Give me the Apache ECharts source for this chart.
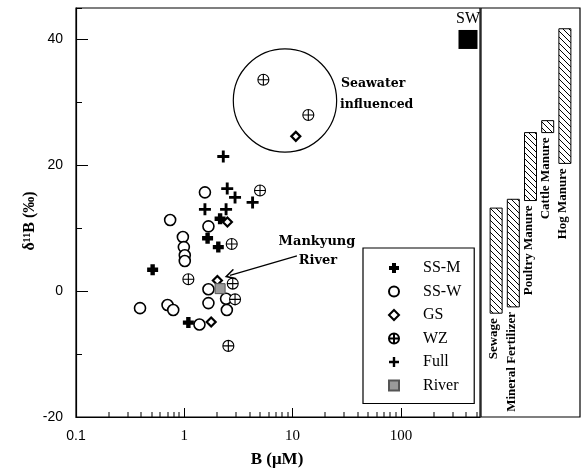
<!DOCTYPE html>
<html>
<head>
<meta charset="utf-8">
<script src="https://cdn.jsdelivr.net/npm/echarts@6/dist/echarts.min.js"></script>
<style>
  html, body { margin: 0; padding: 0; background: #fff; }
  #chart { width: 586px; height: 474px; }
</style>
</head>
<body>
<div id="chart"></div>
<script>
// B (uM), delta 11B (permil)
var ssM = [[2.14, 11.5], [1.64, 8.4], [2.06, 7.0], [0.51, 3.4], [1.09, -5.0]];
var ssW = [[1.55, 15.7], [0.74, 11.3], [1.67, 10.3], [0.97, 8.6], [0.99, 7.0], [1.01, 5.7],
           [1.01, 4.8], [1.67, 0.3], [2.43, -1.2], [1.67, -1.9], [0.70, -2.2], [0.79, -3.0],
           [2.47, -3.0], [0.39, -2.7], [1.38, -5.3]];
var gs = [[10.7, 24.6], [2.5, 11.0], [2.02, 1.7], [1.77, -4.9]];
var wz = [[5.37, 33.6], [13.96, 28.0], [5.0, 16.0], [2.74, 7.5], [1.09, 1.9], [2.80, 1.2],
          [2.94, -1.3], [2.55, -8.7]];
var full = [[2.29, 21.4], [2.49, 16.3], [2.94, 14.9], [4.27, 14.1], [1.55, 13.0], [2.43, 13.0]];
var river = [[2.14, 0.4]];
var seawater = [[416, 40]];

// source ranges of d11B (right panel)
var sourceNames = ['Sewage', 'Mineral Fertilizer', 'Poultry Manure', 'Cattle Manure', 'Hog Manure'];
var sourceLow = [-3.5, -2.5, 14.4, 25.2, 20.3];
var sourceHigh = [13.2, 14.6, 25.2, 27.1, 41.7];

// seawater-influenced circle: centre, and B at its right edge
var swCircle = [[8.5, 30.3, 25.5]];
// arrow to Mankyung River point: from, to
var arrowFrom = [10.96, 5.6];
var arrowTo = [2.64, 2.5];

var xMin = 0.1, xMax = 537;
var yMin = -20, yMax = 45;
var xDecades = [0.1, 1, 10, 100];

var chart = echarts.init(document.getElementById('chart'));

// hatch fill for the source bars
function makeHatch() {
  var c = document.createElement('canvas');
  c.width = 6; c.height = 6;
  var g = c.getContext('2d');
  g.fillStyle = '#fff';
  g.fillRect(0, 0, 6, 6);
  g.strokeStyle = '#000';
  g.lineWidth = 1;
  g.beginPath();
  g.moveTo(-1, -1); g.lineTo(7, 7);
  g.moveTo(-1, 5); g.lineTo(1, 7);
  g.moveTo(5, -1); g.lineTo(7, 1);
  g.stroke();
  return c;
}
var hatch = makeHatch();

// minor ticks of the log axis (2..9 in each decade)
var minorTicks = [];
xDecades.forEach(function (d) {
  for (var m = 2; m <= 9; m++) {
    if (m * d < xMax) minorTicks.push([m * d, yMin]);
  }
});

var symSSM = 'path://M3,0H7V3H10V7H7V10H3V7H0V3H3Z';
var symFull = 'path://M3.8,0H6.2V3.8H10V6.2H6.2V10H3.8V6.2H0V3.8H3.8Z';
var symWZ = 'path://M0,5A5,5,0,1,1,10,5A5,5,0,1,1,0,5ZM5,0L5,10M0,5L10,5';
var symArrow = 'path://M0,9L5,0L10,9L9,10L5,3L1,10Z';

var serif = '"Liberation Serif", "Times New Roman", serif';

chart.setOption({
  animation: false,
  backgroundColor: '#fff',
  grid: [
    { left: 76, right: 106, top: 8, bottom: 57, show: true, borderColor: '#000', borderWidth: 1.2 },
    { left: 481, right: 6, top: 8, bottom: 57, show: true, borderColor: '#000', borderWidth: 1.2 }
  ],
  xAxis: [
    {
      type: 'log', logBase: 10, gridIndex: 0, min: xMin, max: xMax,
      axisLine: { onZero: false, lineStyle: { color: '#000', width: 1.2 } },
      axisTick: { inside: true, length: 9, lineStyle: { color: '#000' } },
      splitLine: { show: false },
      axisLabel: {
        margin: 12, showMaxLabel: false, color: '#000',
        formatter: function (v) {
          return v < 1 ? '{s|0.1}' : '{r|' + Math.round(v) + '}';
        },
        rich: {
          s: { fontFamily: '"Liberation Sans", Arial, sans-serif', fontSize: 14, color: '#000' },
          r: { fontFamily: serif, fontSize: 15, color: '#000' }
        }
      }
    },
    { type: 'value', gridIndex: 1, min: 0.12, max: 5.88, show: false }
  ],
  yAxis: [
    {
      type: 'value', gridIndex: 0, min: yMin, max: yMax, interval: 20,
      axisLine: { show: true, onZero: false, lineStyle: { color: '#000', width: 1.2 } },
      axisTick: { inside: true, length: 12, lineStyle: { color: '#000' } },
      splitLine: { show: false },
      axisLabel: {
        margin: 13, showMaxLabel: false, color: '#000',
        fontFamily: '"Liberation Sans", Arial, sans-serif', fontSize: 14
      }
    },
    {
      type: 'value', gridIndex: 0, min: yMin, max: yMax, interval: 10, position: 'left',
      axisLine: { show: false, onZero: false },
      axisTick: { inside: true, length: 6, lineStyle: { color: '#000' } },
      splitLine: { show: false },
      axisLabel: { show: false }
    },
    { type: 'value', gridIndex: 1, min: yMin, max: yMax, show: false }
  ],
  legend: {
    orient: 'vertical', left: 363, top: 248,
    padding: [12, 13, 10, 25],
    itemWidth: 10, itemHeight: 10, itemGap: 7.5,
    selectedMode: false,
    backgroundColor: '#fff', borderColor: '#000', borderWidth: 1.2, borderRadius: 0,
    textStyle: { fontFamily: serif, fontSize: 16, color: '#000', padding: [0, 0, 0, 19] },
    data: ['SS-M', 'SS-W', 'GS', 'WZ', 'Full', 'River'],
    z: 10
  },
  graphic: [
    { type: 'text', x: 341, y: 84, style: { text: 'Seawater', font: 'bold 12.5px "DejaVu Serif", serif', fill: '#000', verticalAlign: 'middle' } },
    { type: 'text', x: 340, y: 105, style: { text: 'influenced', font: 'bold 12.5px "DejaVu Serif", serif', fill: '#000', verticalAlign: 'middle' } },
    { type: 'text', x: 317, y: 242, style: { text: 'Mankyung', font: 'bold 13px "DejaVu Serif", serif', fill: '#000', align: 'center', verticalAlign: 'middle' } },
    { type: 'text', x: 318, y: 261, style: { text: 'River', font: 'bold 13px "DejaVu Serif", serif', fill: '#000', align: 'center', verticalAlign: 'middle' } },
    { type: 'text', x: 277, y: 460, style: { text: 'B (\u03bcM)', font: 'bold 17px ' + serif, fill: '#000', align: 'center', verticalAlign: 'middle' } },
    { type: 'text', x: 30, y: 221, rotation: Math.PI / 2, style: { text: '\u03b4\u00b9\u00b9B (\u2030)', font: 'bold 16px ' + serif, fill: '#000', align: 'center', verticalAlign: 'middle' } }
  ],
  series: [
    {
      name: 'SS-M', type: 'scatter', xAxisIndex: 0, yAxisIndex: 0, data: ssM,
      symbol: symSSM, symbolSize: 11,
      itemStyle: { color: '#000', opacity: 1 }
    },
    {
      name: 'SS-W', type: 'scatter', xAxisIndex: 0, yAxisIndex: 0, data: ssW,
      symbol: 'circle', symbolSize: 11,
      itemStyle: { color: '#fff', borderColor: '#000', borderWidth: 1.6, opacity: 1 }
    },
    {
      name: 'GS', type: 'scatter', xAxisIndex: 0, yAxisIndex: 0, data: gs,
      symbol: 'diamond', symbolSize: 9,
      itemStyle: { color: '#fff', borderColor: '#000', borderWidth: 2.2, opacity: 1 }
    },
    {
      name: 'WZ', type: 'scatter', xAxisIndex: 0, yAxisIndex: 0, data: wz,
      symbol: symWZ, symbolSize: 11,
      itemStyle: { color: '#fff', borderColor: '#000', borderWidth: 1.1, opacity: 1 }
    },
    {
      name: 'Full', type: 'scatter', xAxisIndex: 0, yAxisIndex: 0, data: full,
      symbol: symFull, symbolSize: 12,
      itemStyle: { color: '#000', opacity: 1 }
    },
    {
      name: 'River', type: 'scatter', xAxisIndex: 0, yAxisIndex: 0, data: river,
      symbol: 'rect', symbolSize: 10,
      itemStyle: { color: '#9a9a9a', borderColor: '#555', borderWidth: 1, opacity: 1 }
    },
    {
      name: 'SW', type: 'scatter', xAxisIndex: 0, yAxisIndex: 0, data: seawater,
      symbol: 'rect', symbolSize: 19,
      itemStyle: { color: '#000', opacity: 1 },
      label: { show: true, position: 'top', distance: 3, formatter: 'SW', fontFamily: serif, fontSize: 16, color: '#000' },
      markLine: {
        silent: true, animation: false,
        symbol: ['none', symArrow], symbolSize: 11,
        lineStyle: { color: '#000', width: 1.2, type: 'solid' },
        itemStyle: { color: '#000' },
        label: { show: false },
        data: [[{ coord: arrowFrom }, { coord: arrowTo }]]
      }
    },
    {
      name: 'circle', type: 'custom', xAxisIndex: 0, yAxisIndex: 0, data: swCircle,
      silent: true, z: 1,
      renderItem: function (params, api) {
        var c = api.coord([api.value(0), api.value(1)]);
        var e = api.coord([api.value(2), api.value(1)]);
        return {
          type: 'circle',
          shape: { cx: c[0], cy: c[1], r: e[0] - c[0] },
          style: { fill: 'none', stroke: '#000', lineWidth: 1.2 }
        };
      }
    },
    {
      name: 'minorTicks', type: 'custom', xAxisIndex: 0, yAxisIndex: 0, data: minorTicks,
      silent: true, z: 10,
      renderItem: function (params, api) {
        var p = api.coord([api.value(0), api.value(1)]);
        return {
          type: 'rect',
          shape: { x: Math.round(p[0]) - 0.5, y: p[1] - 5, width: 1, height: 5 },
          style: { fill: '#000' }
        };
      }
    },
    {
      name: 'sources', type: 'custom', xAxisIndex: 1, yAxisIndex: 2,
      data: sourceNames.map(function (n, i) { return [i + 1, sourceLow[i], sourceHigh[i]]; }),
      silent: true,
      renderItem: function (params, api) {
        var x = api.value(0);
        var lo = api.coord([x, api.value(1)]);
        var hi = api.coord([x, api.value(2)]);
        var w = 12;
        return {
          type: 'group',
          children: [
            {
              type: 'rect',
              shape: { x: lo[0] - w / 2, y: hi[1], width: w, height: lo[1] - hi[1] },
              style: { fill: { image: hatch, repeat: 'repeat' }, stroke: '#000', lineWidth: 1 }
            },
            {
              type: 'text', x: lo[0] - 2, y: lo[1] + 5, rotation: Math.PI / 2,
              style: {
                text: sourceNames[params.dataIndex], font: 'bold 13px ' + serif,
                fill: '#000', align: 'right', verticalAlign: 'middle'
              }
            }
          ]
        };
      }
    }
  ]
});
</script>
</body>
</html>
